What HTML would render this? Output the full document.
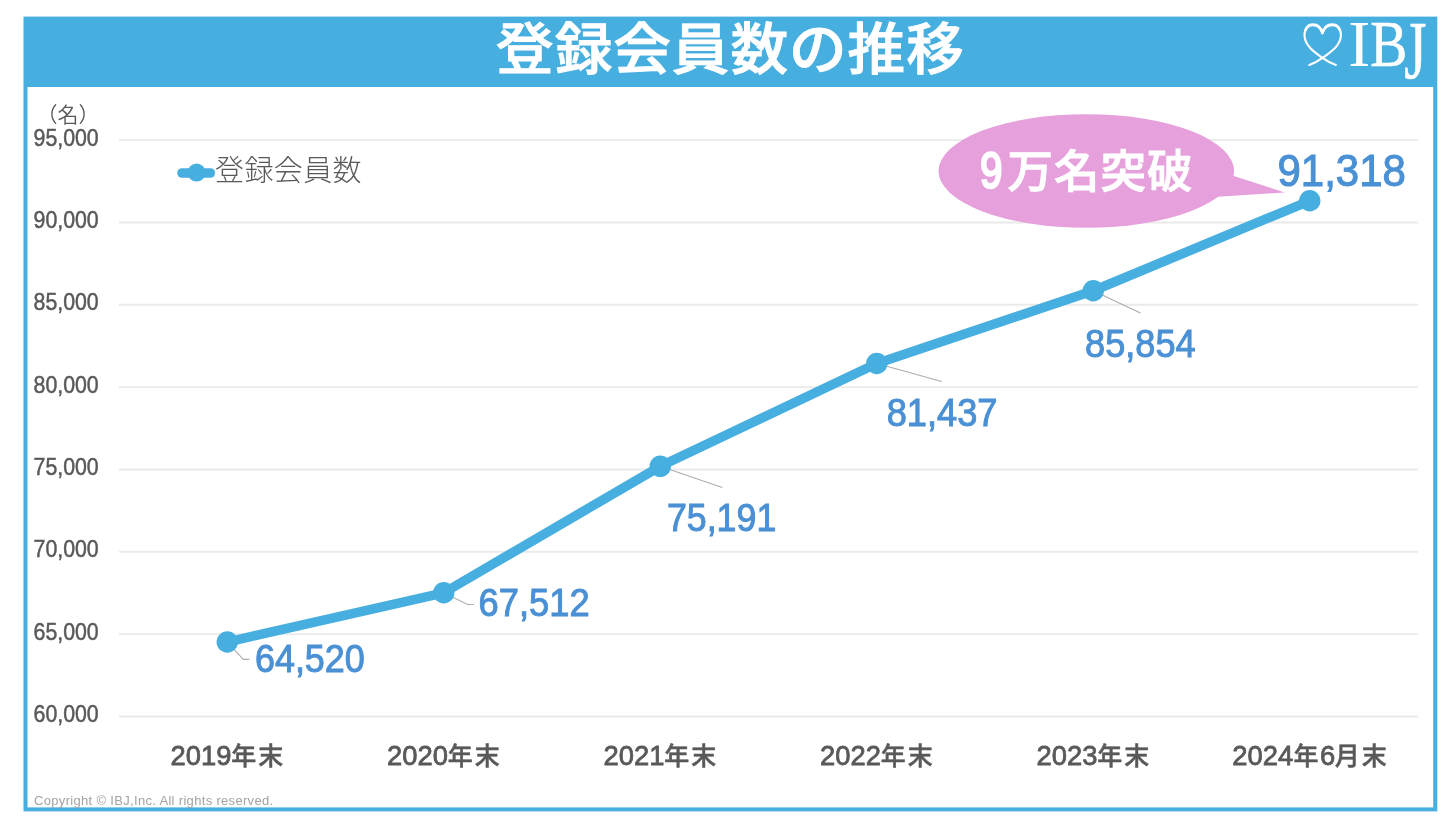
<!DOCTYPE html>
<html lang="ja"><head><meta charset="utf-8"><title>登録会員数の推移</title>
<style>html,body{margin:0;padding:0;background:#fff}body{width:1456px;height:828px;overflow:hidden}svg{display:block}text{font-family:"Liberation Sans","Noto Sans CJK JP",sans-serif}.serif{font-family:"Liberation Serif","Noto Serif CJK SC",serif}</style></head><body>
<svg width="1456" height="828" viewBox="0 0 1456 828">
<rect x="0" y="0" width="1456" height="828" fill="#fff"/>
<rect x="23.5" y="16.6" width="1413.8" height="794.8" fill="#47AEE0"/>
<rect x="27.5" y="87" width="1405.7" height="720.4" fill="#fff"/>
<text transform="translate(730.4 68.6) scale(1.039 1)" font-size="55.5" font-weight="500" fill="#fff" stroke="#fff" stroke-width="0.9" text-anchor="middle" letter-spacing="0.9">登録会員数の推移</text>
<g fill="none" stroke="#fff" stroke-linecap="round" stroke-linejoin="round"><path stroke-width="2.1" d="M1309.300 65 C1314.500 63 1319 60.500 1322.400 57.900 C1330 52.500 1340.600 46 1340.900 35.500 C1341.100 28 1337.300 24.300 1332.500 24.300 C1327.500 24.300 1323.500 27.500 1322.400 33.300 C1321.300 27.500 1317.500 24.300 1312.900 24.300 C1308 24.300 1304.300 28 1304.500 35.500 C1304.800 46 1315 52.500 1322.400 57.900 C1326 60.500 1330.500 63 1335.900 65"/><path stroke-width="2.1" d="M1339.800 30.500 C1338.300 26.600 1335.800 25.200 1332.500 25.200 C1328.200 25.200 1324.300 28 1322.400 33.300 C1320.500 28 1316.800 25.200 1312.900 25.200 C1309.600 25.200 1307.100 26.600 1305.600 30.500"/></g>
<g class="serif" fill="#fff" stroke="#fff" font-size="66"><text class="serif" stroke-width="0" transform="translate(1348.200 66.200) scale(1 1)">I</text><text class="serif" stroke-width="0.5" transform="translate(1370.150 66.200) scale(0.845 1)">B</text><text class="serif" stroke-width="0.5" transform="translate(1404.300 77.570) scale(0.86 1.257)">J</text></g>
<line x1="119" x2="1417.8" y1="716.45" y2="716.45" stroke="#EAEAEA" stroke-width="1.9"/>
<text transform="translate(33.55 722.05) scale(0.87 1)" font-size="24.5" fill="#595959" stroke="#595959" stroke-width="0.5">60,000</text>
<line x1="119" x2="1417.8" y1="634.12" y2="634.12" stroke="#EAEAEA" stroke-width="1.9"/>
<text transform="translate(33.55 639.72) scale(0.87 1)" font-size="24.5" fill="#595959" stroke="#595959" stroke-width="0.5">65,000</text>
<line x1="119" x2="1417.8" y1="551.79" y2="551.79" stroke="#EAEAEA" stroke-width="1.9"/>
<text transform="translate(33.55 557.39) scale(0.87 1)" font-size="24.5" fill="#595959" stroke="#595959" stroke-width="0.5">70,000</text>
<line x1="119" x2="1417.8" y1="469.46" y2="469.46" stroke="#EAEAEA" stroke-width="1.9"/>
<text transform="translate(33.55 475.06) scale(0.87 1)" font-size="24.5" fill="#595959" stroke="#595959" stroke-width="0.5">75,000</text>
<line x1="119" x2="1417.8" y1="387.13" y2="387.13" stroke="#EAEAEA" stroke-width="1.9"/>
<text transform="translate(33.55 392.73) scale(0.87 1)" font-size="24.5" fill="#595959" stroke="#595959" stroke-width="0.5">80,000</text>
<line x1="119" x2="1417.8" y1="304.80" y2="304.80" stroke="#EAEAEA" stroke-width="1.9"/>
<text transform="translate(33.55 310.40) scale(0.87 1)" font-size="24.5" fill="#595959" stroke="#595959" stroke-width="0.5">85,000</text>
<line x1="119" x2="1417.8" y1="222.47" y2="222.47" stroke="#EAEAEA" stroke-width="1.9"/>
<text transform="translate(33.55 228.07) scale(0.87 1)" font-size="24.5" fill="#595959" stroke="#595959" stroke-width="0.5">90,000</text>
<line x1="119" x2="1417.8" y1="140.14" y2="140.14" stroke="#EAEAEA" stroke-width="1.9"/>
<text transform="translate(33.55 145.74) scale(0.87 1)" font-size="24.5" fill="#595959" stroke="#595959" stroke-width="0.5">95,000</text>
<text x="67.9" y="121.500" font-size="21" font-weight="350" fill="#595959" text-anchor="middle">（名）</text>
<line x1="182" x2="210.3" y1="173" y2="173" stroke="#47AEE0" stroke-width="9.6" stroke-linecap="round"/>
<circle cx="196.6" cy="172.6" r="9" fill="#47AEE0"/>
<text x="215" y="180.5" font-size="29" font-weight="300" fill="#595959" letter-spacing="0.4">登録会員数</text>
<g fill="#E6A0DC"><ellipse cx="1086.3" cy="171" rx="147.8" ry="56.8"/><path d="M1215 170 L1284.800 192.500 L1195 198.300 Z"/></g>
<text fill="#fff" stroke="#fff" font-size="45.5"><tspan x="979.900" y="187.600" font-size="50" stroke-width="2.4" textLength="22.440" lengthAdjust="spacingAndGlyphs">9</tspan><tspan x="1007.400" y="188.400" font-weight="500" stroke-width="1" letter-spacing="1.05">万名突破</tspan></text>
<path d="M227.2 642.0 L243.3 659.4 L249.4 659.4" fill="none" stroke="#ADADAD" stroke-width="1.1"/>
<path d="M443.8 592.8 L467.6 604.5 L473.8 604.5" fill="none" stroke="#ADADAD" stroke-width="1.1"/>
<path d="M660.2 466.3 L722.3 487.6" fill="none" stroke="#ADADAD" stroke-width="1.1"/>
<path d="M876.8 363.5 L941.7 381.5" fill="none" stroke="#ADADAD" stroke-width="1.1"/>
<path d="M1093.2 290.7 L1140.4 312.9" fill="none" stroke="#ADADAD" stroke-width="1.1"/>
<polyline points="227.25,642.02 443.75,592.76 660.25,466.31 876.75,363.47 1093.25,290.74 1309.75,200.77" fill="none" stroke="#47AEE0" stroke-width="9.5" stroke-linejoin="round" stroke-linecap="round"/>
<circle cx="227.25" cy="642.02" r="10.7" fill="#47AEE0"/>
<circle cx="443.75" cy="592.76" r="10.7" fill="#47AEE0"/>
<circle cx="660.25" cy="466.31" r="10.7" fill="#47AEE0"/>
<circle cx="876.75" cy="363.47" r="10.7" fill="#47AEE0"/>
<circle cx="1093.25" cy="290.74" r="10.7" fill="#47AEE0"/>
<circle cx="1309.75" cy="200.77" r="10.7" fill="#47AEE0"/>
<text transform="translate(254.92 672.0) scale(0.9383 1)" font-size="38.3" fill="#4A90D4" stroke="#4A90D4" stroke-width="1.0">64,520</text>
<text transform="translate(478.6 616.4) scale(0.9488 1)" font-size="38.3" fill="#4A90D4" stroke="#4A90D4" stroke-width="1.0">67,512</text>
<text transform="translate(666.9 531.4) scale(0.9337 1)" font-size="38.3" fill="#4A90D4" stroke="#4A90D4" stroke-width="1.0">75,191</text>
<text transform="translate(886.72 425.5) scale(0.946 1)" font-size="38.3" fill="#4A90D4" stroke="#4A90D4" stroke-width="1.0">81,437</text>
<text transform="translate(1085.12 357.2) scale(0.9433 1)" font-size="38.3" fill="#4A90D4" stroke="#4A90D4" stroke-width="1.0">85,854</text>
<text transform="translate(1277.48 186.1) scale(0.9289 1)" font-size="45.2" fill="#4A90D4" stroke="#4A90D4" stroke-width="1.1">91,318</text>
<text y="765" font-size="25" fill="#595959" stroke="#595959"><tspan x="170.61" font-size="28.3" stroke-width="0.8" textLength="60.88" lengthAdjust="spacingAndGlyphs">2019</tspan><tspan x="231.15" font-weight="500" stroke-width="0.5">年</tspan><tspan x="258.25" font-weight="500" stroke-width="0.5">末</tspan></text>
<text y="765" font-size="25" fill="#595959" stroke="#595959"><tspan x="387.11" font-size="28.3" stroke-width="0.8" textLength="60.88" lengthAdjust="spacingAndGlyphs">2020</tspan><tspan x="447.65" font-weight="500" stroke-width="0.5">年</tspan><tspan x="474.75" font-weight="500" stroke-width="0.5">末</tspan></text>
<text y="765" font-size="25" fill="#595959" stroke="#595959"><tspan x="603.61" font-size="28.3" stroke-width="0.8" textLength="60.88" lengthAdjust="spacingAndGlyphs">2021</tspan><tspan x="664.15" font-weight="500" stroke-width="0.5">年</tspan><tspan x="691.25" font-weight="500" stroke-width="0.5">末</tspan></text>
<text y="765" font-size="25" fill="#595959" stroke="#595959"><tspan x="820.11" font-size="28.3" stroke-width="0.8" textLength="60.88" lengthAdjust="spacingAndGlyphs">2022</tspan><tspan x="880.65" font-weight="500" stroke-width="0.5">年</tspan><tspan x="907.75" font-weight="500" stroke-width="0.5">末</tspan></text>
<text y="765" font-size="25" fill="#595959" stroke="#595959"><tspan x="1036.61" font-size="28.3" stroke-width="0.8" textLength="60.88" lengthAdjust="spacingAndGlyphs">2023</tspan><tspan x="1097.15" font-weight="500" stroke-width="0.5">年</tspan><tspan x="1124.25" font-weight="500" stroke-width="0.5">末</tspan></text>
<text y="765" font-size="25" fill="#595959" stroke="#595959"><tspan x="1232.26" font-size="28.3" stroke-width="0.8" textLength="60.88" lengthAdjust="spacingAndGlyphs">2024</tspan><tspan x="1293.40" font-weight="500" stroke-width="0.5">年</tspan><tspan x="1319.89" font-size="28.3" stroke-width="0.8" textLength="15.22" lengthAdjust="spacingAndGlyphs">6</tspan><tspan x="1334.65" font-weight="500" stroke-width="0.5">月</tspan><tspan x="1361.70" font-weight="500" stroke-width="0.5">末</tspan></text>
<text x="34" y="805" font-size="13" fill="#A3A3A3" letter-spacing="0.32">Copyright © IBJ,Inc. All rights reserved.</text>
</svg></body></html>
